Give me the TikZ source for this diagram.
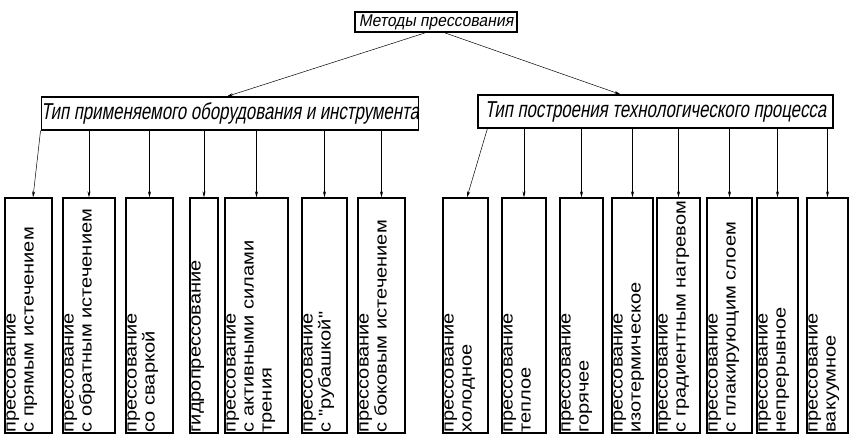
\documentclass[tikz,border=0pt]{standalone}
\usepackage{fontspec}
\setmainfont{Liberation Sans}
\newfontfamily\boxfont[FakeStretch=1.18]{Liberation Sans}
\newfontfamily\midfont[FakeStretch=0.73,FakeSlant=0.18]{Liberation Sans}
\newfontfamily\topfont[FakeStretch=0.92,FakeSlant=0.18]{Liberation Sans}
\usetikzlibrary{arrows.meta}
\begin{document}
\begin{tikzpicture}[x=1pt,y=-1pt,
  bbox/.style={draw, line width=1.4pt, rectangle, inner sep=0pt, minimum height=235pt},
  btext/.style={rotate=90, anchor=north west, align=left, inner xsep=1pt, inner ysep=2pt,
    font=\boxfont\fontsize{17}{18}\selectfont},
  midbox/.style={draw, line width=1.2pt, inner sep=0pt, minimum height=33pt,
    font=\midfont\fontsize{23}{23}\selectfont},
  topbox/.style={draw, line width=1.8pt, inner sep=0pt, minimum width=162pt, minimum height=20pt,
    font=\topfont\fontsize{17}{17}\selectfont},
  conn/.style={line width=0.5pt, -{Stealth[length=6pt,width=3pt]}}
]
\useasboundingbox (0,0) rectangle (851,437);

\node[topbox] (top) at (436,22) {Методы прессования};
\node[midbox, minimum width=376pt] (L) at (230,113.5) {Тип применяемого оборудования и инструмента};
\node[midbox, minimum width=355pt] (R) at (655.5,111.5) {Тип построения технологического процесса};

\draw[conn] ([xshift=-11pt]top.south) -- ([xshift=-3pt]L.north);
\draw[conn] ([xshift=9pt]top.south) -- ([xshift=-35pt]R.north);

\node[bbox, minimum width=47pt] (b1) at (28.5,315.5) {};
\node[bbox, minimum width=52pt] (b2) at (89,315.5) {};
\node[bbox, minimum width=47pt] (b3) at (149.5,315.5) {};
\node[bbox, minimum width=28pt] (b4) at (204,315.5) {};
\node[bbox, minimum width=63pt] (b5) at (256.5,315.5) {};
\node[bbox, minimum width=45pt] (b6) at (324.5,315.5) {};
\node[bbox, minimum width=47pt] (b7) at (381.5,315.5) {};
\node[bbox, minimum width=45pt] (b8) at (465.5,315.5) {};
\node[bbox, minimum width=44pt] (b9) at (524,315.5) {};
\node[bbox, minimum width=43pt] (b10) at (581.5,315.5) {};
\node[bbox, minimum width=41pt] (b11) at (632.5,315.5) {};
\node[bbox, minimum width=43pt] (b12) at (678.5,315.5) {};
\node[bbox, minimum width=45pt] (b13) at (729.5,315.5) {};
\node[bbox, minimum width=41pt] (b14) at (777.5,315.5) {};
\node[bbox, minimum width=41pt] (b15) at (827.5,315.5) {};

\node[btext] (t1) at (b1.south west) {прессование\\с прямым истечением};
\node[btext] (t2) at (b2.south west) {прессование\\с обратным истечением};
\node[btext] (t3) at (b3.south west) {прессование\\со сваркой};
\node[btext] (t4) at (b4.south west) {гидропрессование};
\node[btext] (t5) at (b5.south west) {прессование\\с активными силами\\трения};
\node[btext] (t6) at (b6.south west) {прессование\\с "рубашкой"};
\node[btext] (t7) at (b7.south west) {прессование\\с боковым истечением};
\node[btext] (t8) at (b8.south west) {прессование\\холодное};
\node[btext] (t9) at (b9.south west) {прессование\\теплое};
\node[btext] (t10) at (b10.south west) {прессование\\горячее};
\node[btext] (t11) at (b11.south west) {прессование\\изотермическое};
\node[btext] (t12) at (b12.south west) {прессование\\с градиентным нагревом};
\node[btext] (t13) at (b13.south west) {прессование\\с плакирующим слоем};
\node[btext] (t14) at (b14.south west) {прессование\\непрерывное};
\node[btext] (t15) at (b15.south west) {прессование\\вакуумное};

\draw[conn] (L.south west) -- ([xshift=4.5pt]b1.north);
\foreach \b in {b2,b3,b4,b5,b6,b7}
  \draw[conn] (\b.north |- L.south) -- (\b.north);
\draw[conn] ([xshift=10pt]R.south west) -- ([xshift=1.5pt]b8.north);
\foreach \b in {b9,b10,b11,b12,b13,b14,b15}
  \draw[conn] (\b.north |- R.south) -- (\b.north);
\end{tikzpicture}
\end{document}
